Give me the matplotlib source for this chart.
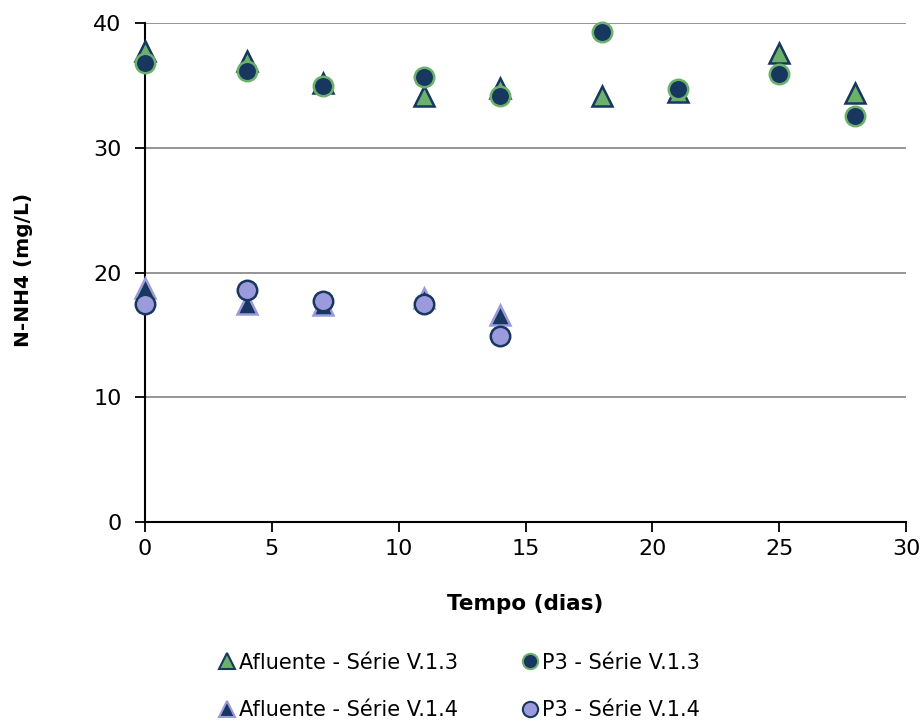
import matplotlib
matplotlib.use("Agg")
import matplotlib.pyplot as plt
from matplotlib.lines import Line2D

plt.rcParams['font.family'] = ['DejaVu Sans']

# Série V.1.3
dias_v13 = [0, 4, 7, 11, 14, 18, 21, 25, 28]
afluente_v13 = [37.8, 37.0, 35.2, 34.2, 34.8, 34.2, 34.5, 37.6, 34.4]
p3_v13 = [36.8, 36.15, 35.0, 35.7, 34.15, 39.3, 34.75, 35.95, 32.55]

# Série V.1.4
dias_v14 = [0, 4, 7, 11, 14]
afluente_v14 = [18.8, 17.5, 17.4, 18.0, 16.6]
p3_v14 = [17.45, 18.6, 17.7, 17.5, 14.9]

navy = '#17375E'
green = '#6BB06B'
lilac = '#9A9ADC'

fig = plt.figure(figsize=(9.24, 7.27), dpi=100)
ax = fig.add_axes([0.157, 0.282, 0.8235, 0.686])

ms = 14
ax.plot(dias_v13, afluente_v13, linestyle='none', marker='^', markersize=ms,
        markerfacecolor=green, markeredgecolor=navy, markeredgewidth=1.8,
        zorder=3, clip_on=False)
ax.plot(dias_v13, p3_v13, linestyle='none', marker='o', markersize=ms,
        markerfacecolor=navy, markeredgecolor=green, markeredgewidth=1.8,
        zorder=4, clip_on=False)
ax.plot(dias_v14, afluente_v14, linestyle='none', marker='^', markersize=ms,
        markerfacecolor=navy, markeredgecolor=lilac, markeredgewidth=1.8,
        zorder=3, clip_on=False)
ax.plot(dias_v14, p3_v14, linestyle='none', marker='o', markersize=ms,
        markerfacecolor=lilac, markeredgecolor=navy, markeredgewidth=1.8,
        zorder=4, clip_on=False)

ax.set_xlim(0, 30)
ax.set_ylim(0, 40)
ax.set_xticks(range(0, 31, 5))
ax.set_yticks(range(0, 41, 10))
ax.yaxis.grid(True, color='#8C8C8C', linewidth=1.3)
ax.set_axisbelow(True)
for s in ('top', 'right'):
    ax.spines[s].set_visible(False)
for s in ('left', 'bottom'):
    ax.spines[s].set_color('black')
    ax.spines[s].set_linewidth(1.5)
ax.tick_params(axis='both', direction='out', length=7, width=1.3,
               labelsize=16, colors='black')
ax.tick_params(axis='x', pad=5)
ax.tick_params(axis='y', pad=10)

ax.set_xlabel('Tempo (dias)', fontsize=15.5, fontweight='bold')
ax.set_ylabel('N-NH4 (mg/L)', fontsize=14.5, fontweight='bold')
ax.xaxis.set_label_coords(0.5, -0.145)
ax.yaxis.set_label_coords(-0.147, 0.505)

handles = [
    Line2D([], [], linestyle='none', marker='^', markersize=11,
           markerfacecolor=green, markeredgecolor=navy, markeredgewidth=1.5),
    Line2D([], [], linestyle='none', marker='^', markersize=11,
           markerfacecolor=navy, markeredgecolor=lilac, markeredgewidth=1.5),
    Line2D([], [], linestyle='none', marker='o', markersize=11,
           markerfacecolor=navy, markeredgecolor=green, markeredgewidth=1.5),
    Line2D([], [], linestyle='none', marker='o', markersize=11,
           markerfacecolor=lilac, markeredgecolor=navy, markeredgewidth=1.5),
]
labels = ['Afluente - Série V.1.3', 'Afluente - Série V.1.4',
          'P3 - Série V.1.3', 'P3 - Série V.1.4']
fig.legend(handles, labels, ncol=2, loc='center', bbox_to_anchor=(0.497, 0.056),
           frameon=False, fontsize=15, handlelength=0.8, handletextpad=0.2,
           columnspacing=3.05, labelspacing=1.3, borderpad=0)

fig.savefig('out.png', dpi=100, facecolor='white')
